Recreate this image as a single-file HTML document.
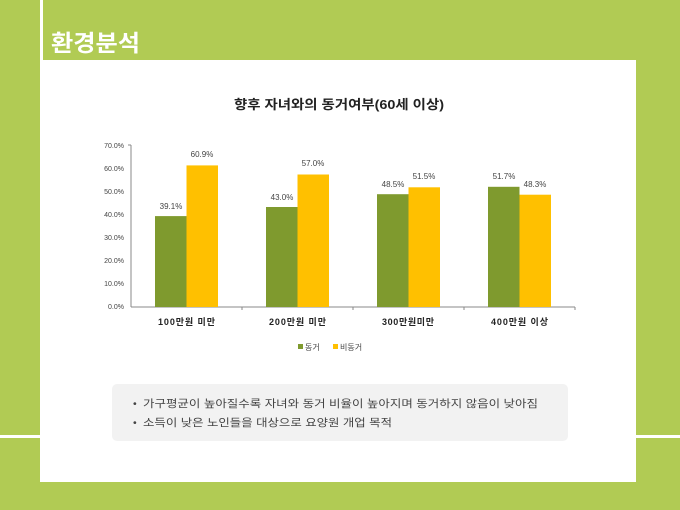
<!DOCTYPE html>
<html><head><meta charset="utf-8"><style>
body{margin:0;width:680px;height:510px;background:#b1cb54;position:relative;overflow:hidden;font-family:"Liberation Sans","Noto Sans CJK KR",sans-serif}
.a{position:absolute}
</style></head><body>
<div class="a" style="left:40px;top:0;width:3px;height:62px;background:#fff"></div>
<div class="a" style="left:0;top:435px;width:680px;height:3px;background:#fff"></div>
<div class="a" style="left:40px;top:60px;width:596px;height:422px;background:#fff"></div>
<svg class="a" style="left:0;top:0" width="680" height="510" font-family="Liberation Sans, Noto Sans CJK KR, sans-serif">
<text x="51" y="51" font-size="23" font-weight="bold" fill="#fff" textLength="89" lengthAdjust="spacingAndGlyphs">환경분석</text>
<text x="234" y="109" font-size="13" font-weight="bold" fill="#222" textLength="210" lengthAdjust="spacingAndGlyphs">향후 자녀와의 동거여부(60세 이상)</text>
<g font-size="7" fill="#444" text-anchor="end">
<text x="124" y="309">0.0%</text><text x="124" y="286">10.0%</text><text x="124" y="263">20.0%</text><text x="124" y="240">30.0%</text><text x="124" y="217">40.0%</text><text x="124" y="194">50.0%</text><text x="124" y="171">60.0%</text><text x="124" y="148">70.0%</text>
</g>
<g stroke="#888" stroke-width="1">
<line x1="131" y1="145" x2="131" y2="307"/><line x1="131" y1="307" x2="575" y2="307"/>
<line x1="128" y1="145" x2="131" y2="145"/>
<line x1="242" y1="307" x2="242" y2="310"/><line x1="353" y1="307" x2="353" y2="310"/><line x1="464" y1="307" x2="464" y2="310"/><line x1="575" y1="307" x2="575" y2="310"/>
</g>
<g fill="#7f9a2e">
<rect x="155" y="216.1" width="31.5" height="90.9"/>
<rect x="266" y="207" width="31.5" height="100"/>
<rect x="377" y="194.2" width="31.5" height="112.8"/>
<rect x="488" y="186.8" width="31.5" height="120.2"/>
</g>
<g fill="#ffc000">
<rect x="186.5" y="165.4" width="31.5" height="141.6"/>
<rect x="297.5" y="174.5" width="31.5" height="132.5"/>
<rect x="408.5" y="187.3" width="31.5" height="119.7"/>
<rect x="519.5" y="194.7" width="31.5" height="112.3"/>
</g>
<g font-size="8" fill="#444" text-anchor="middle">
<text x="171" y="209">39.1%</text><text x="202" y="157">60.9%</text>
<text x="282" y="200">43.0%</text><text x="313" y="166">57.0%</text>
<text x="393" y="187">48.5%</text><text x="424" y="179">51.5%</text>
<text x="504" y="179">51.7%</text><text x="535" y="187">48.3%</text>
</g>
<g font-size="9" font-weight="bold" fill="#222" lengthAdjust="spacingAndGlyphs">
<text x="158" y="325" textLength="57">100만원 미만</text><text x="269" y="325" textLength="57">200만원 미만</text><text x="382" y="325" textLength="52">300만원미만</text><text x="491" y="325" textLength="57">400만원 이상</text>
</g>
<rect x="298" y="344" width="5" height="5" fill="#7f9a2e"/><text x="305" y="350" font-size="8" fill="#444">동거</text>
<rect x="333" y="344" width="5" height="5" fill="#ffc000"/><text x="340" y="350" font-size="8" fill="#444">비동거</text>
<rect x="112" y="384" width="456" height="57" rx="5" fill="#f2f2f2"/>
<g font-size="10.5" fill="#444">
<text x="133" y="407">•</text>
<text x="143" y="407" textLength="395" lengthAdjust="spacingAndGlyphs">가구평균이 높아질수록 자녀와 동거 비율이 높아지며 동거하지 않음이 낮아짐</text>
<text x="133" y="426">•</text>
<text x="143" y="426" textLength="249" lengthAdjust="spacingAndGlyphs">소득이 낮은 노인들을 대상으로 요양원 개업 목적</text>
</g>
</svg>
</body></html>
